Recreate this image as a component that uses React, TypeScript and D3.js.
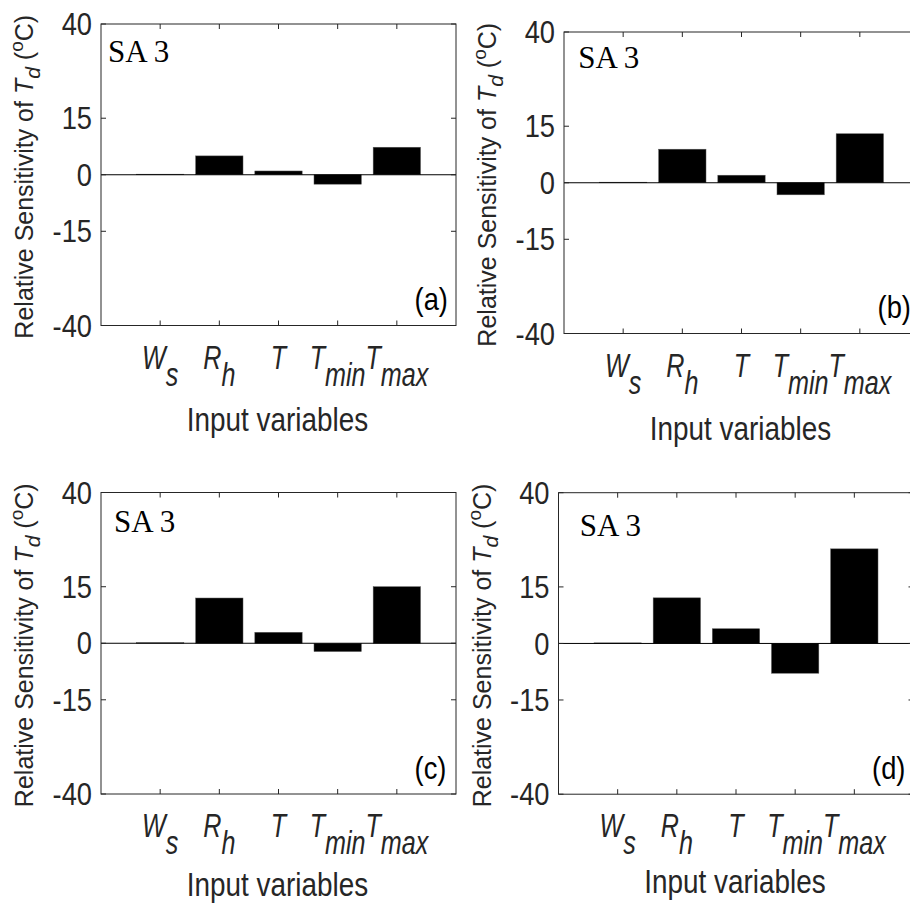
import React from "react";
import * as d3 from "d3";

// ---- data ----
const categoryMain = ["W", "R", "T", "T", "T"];
const categorySub = ["s", "h", "", "min", "max"];
const panelTags = ["(a)", "(b)", "(c)", "(d)"];
const seriesA = [0.15, 5.0, 1.0, -2.5, 7.3];
const seriesB = [0.15, 8.9, 2.0, -3.2, 13.0];
const seriesC = [0.15, 12.0, 2.9, -2.2, 15.0];
const seriesD = [0.15, 12.1, 3.9, -7.9, 25.1];
const yTicks = [-40, -15, 0, 15, 40];
const titleText = "SA 3";
const xLabelText = "Input variables";

// ---- layout ----
const W = 910;
const H = 906;
const PW = 355;
const PH = 301.5;
const panelLeft = [101, 564, 101, 558.5];
const panelTop = [24, 32, 492.5, 492.7];
const titleX = [0.12, 0.24, 0.22, 0.36];
const titleY = [30, 30.4, 29.6, 28.5];
const xLabelOffset = [105, 106, 102, 99];
const allSeries = [seriesA, seriesB, seriesC, seriesD];

const AX = "#262626";
const SANS = "'Liberation Sans', Arial, Helvetica, sans-serif";
const SERIF = "'Liberation Serif', 'Times New Roman', serif";

function Panel({ idx }: { idx: number }) {
  const left = panelLeft[idx];
  const top = panelTop[idx];
  const values = allSeries[idx];
  const x = d3.scaleLinear().domain([0, 6]).range([0, PW]);
  const y = d3.scaleLinear().domain([-40, 40]).range([PH, 0]);
  const xt = d3.range(1, 6);
  const bw = x(0.8) - x(0);
  const tick = 5;
  return (
    <g transform={`translate(${left},${top})`}>
      {values.map((v, i) => (
        <rect
          key={i}
          x={x(i + 1) - bw / 2}
          y={y(Math.max(0, v))}
          width={bw}
          height={Math.abs(y(v) - y(0))}
          fill="#000"
          stroke="#555"
          strokeWidth={0.5}
        />
      ))}
      <line x1={0} x2={PW} y1={y(0)} y2={y(0)} stroke="#000" strokeWidth={1} />
      <rect x={0} y={0} width={PW} height={PH} fill="none" stroke={AX} strokeWidth={1} />
      {yTicks.map((t) => (
        <g key={t}>
          <line x1={0} x2={tick} y1={y(t)} y2={y(t)} stroke={AX} />
          <line x1={PW} x2={PW - tick} y1={y(t)} y2={y(t)} stroke={AX} />
          <text
            transform={`translate(-9,${y(t)}) scale(0.88,1)`}
            dy="0.36em"
            textAnchor="end"
            fontFamily={SANS}
            fontSize={31}
            fill={AX}
          >
            {t}
          </text>
        </g>
      ))}
      {xt.map((t, i) => (
        <g key={t}>
          <line x1={x(t)} x2={x(t)} y1={PH} y2={PH - tick} stroke={AX} />
          <line x1={x(t)} x2={x(t)} y1={0} y2={tick} stroke={AX} />
          <text
            transform={`translate(${x(t)},${PH + 43}) scale(0.74,1)`}
            textAnchor="middle"
            fontFamily={SANS}
            fontSize={34}
            fontStyle="italic"
            fill={AX}
          >
            <tspan>{categoryMain[i]}</tspan>
            {categorySub[i] ? <tspan dy={17}>{categorySub[i]}</tspan> : null}
          </text>
        </g>
      ))}
      <text
        transform={`translate(${PW / 2 - 1},${PH + xLabelOffset[idx]}) scale(0.82,1)`}
        textAnchor="middle"
        fontFamily={SANS}
        fontSize={34}
        fill={AX}
      >
        {xLabelText}
      </text>
      <text
        transform={`translate(-68,${PH / 2 + 2}) rotate(-90)`}
        textAnchor="middle"
        fontFamily={SANS}
        fontSize={25}
        fill={AX}
      >
        <tspan>Relative Sensitivity of </tspan>
        <tspan fontStyle="italic">T</tspan>
        <tspan fontStyle="italic" dy={7} fontSize={21}>d</tspan>
        <tspan dy={-7}> (</tspan>
        <tspan dy={-10} fontSize={19}>o</tspan>
        <tspan dy={10}>C)</tspan>
      </text>
      <text
        x={x(titleX[idx])}
        y={y(titleY[idx])}
        fontFamily={SERIF}
        fontSize={31}
        fill="#000"
      >
        {titleText}
      </text>
      <text
        transform={`translate(${x(5.3)},${y(-36)}) scale(0.88,1)`}
        fontFamily={SANS}
        fontSize={31}
        fill="#000"
      >
        {panelTags[idx]}
      </text>
    </g>
  );
}

export default function App() {
  return (
    <svg
      width={W}
      height={H}
      style={{ position: "absolute", left: 0, top: 0, background: "#fff" }}
    >
      <rect x={0} y={0} width={W} height={H} fill="#fff" />
      {[0, 1, 2, 3].map((i) => (
        <Panel key={i} idx={i} />
      ))}
    </svg>
  );
}
